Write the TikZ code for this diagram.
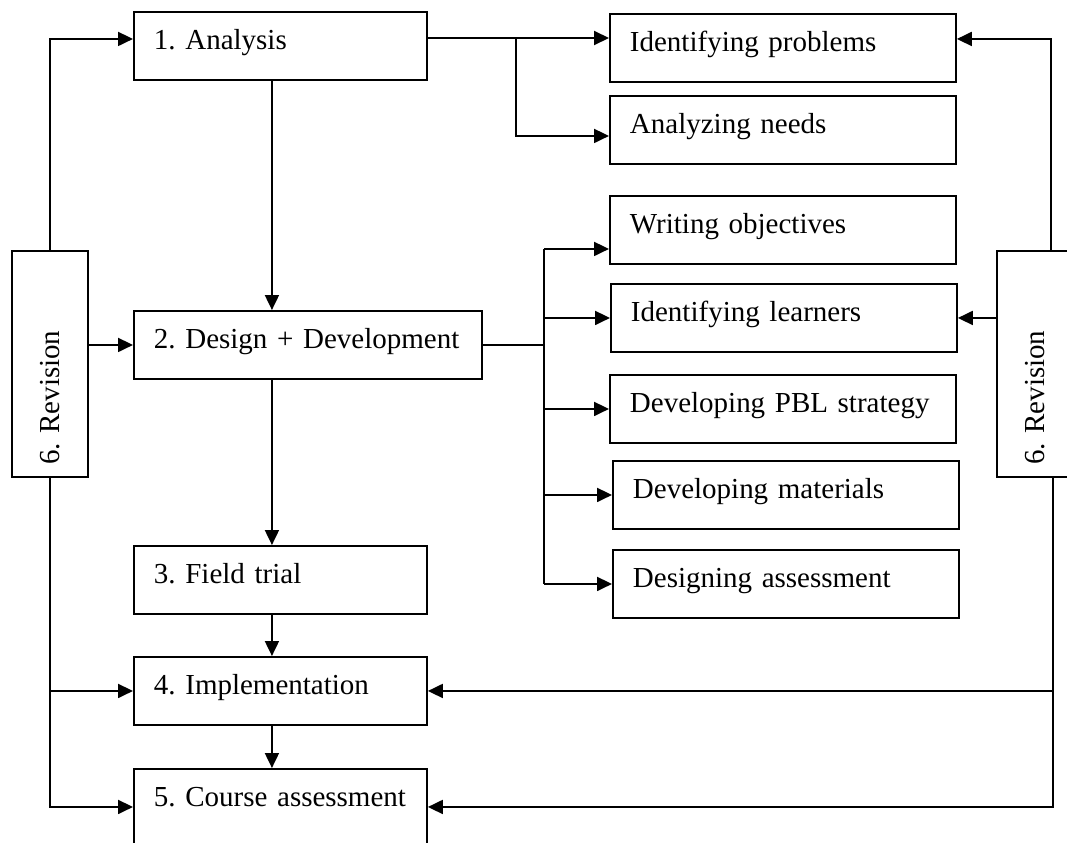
\documentclass[tikz,border=0pt]{standalone}
\usepackage{fontspec}
\setmainfont{Liberation Serif}
\usetikzlibrary{arrows.meta}

\begin{document}
\begin{tikzpicture}[x=0.02cm,y=-0.02cm,line width=1.1pt,
  box/.style={draw,anchor=north west,inner xsep=0.4cm,inner ysep=0pt,
    text height=0.76cm,text depth=0.6cm,align=left,
    font=\fontsize{16.5}{20}\selectfont\frenchspacing},
  phase/.style={box,text width=5.06cm},
  task/.style={box,text width=6.12cm},
  revbox/.style={draw,rotate=90,minimum width=4.52cm,minimum height=1.52cm,
    inner xsep=0.24cm,text width=4.04cm,align=left,
    font=\fontsize{16.5}{20}\selectfont\frenchspacing},
  flow/.style={-{Triangle[length=0.3cm,width=0.28cm]}}]
  \useasboundingbox (0,0) rectangle (1067,842);

  \node[phase] (analysis) at (133,11) {1. Analysis};
  \node[phase,text width=6.16cm] (design) at (133,310) {2. Design + Development};
  \node[phase] (field) at (133,545) {3. Field trial};
  \node[phase] (impl) at (133,656) {4. Implementation};
  \node[phase,text depth=1.0cm] (course) at (133,768) {5. Course assessment};

  \node[task] (ip) at (609,13) {Identifying problems};
  \node[task] (an) at (609,95) {Analyzing needs};
  \node[task] (wo) at (609,195) {Writing objectives};
  \node[task] (il) at (610,283) {Identifying learners};
  \node[task] (pbl) at (609,374) {Developing PBL strategy};
  \node[task] (dm) at (612,460) {Developing materials};
  \node[task] (da) at (612,549) {Designing assessment};

  \node[revbox] (revL) at (50,364) {6. Revision};
  \node[revbox] (revR) at (1035,364) {6. Revision};

  \coordinate (ja) at (516,38);
  \coordinate (jb) at (544,343);
  \coordinate (ipin) at ([yshift=0.18cm]ip.east);
  \coordinate (woin) at ([yshift=-0.38cm]wo.west);

  % main line
  \draw[flow] ([xshift=-0.17cm]analysis.south) coordinate (a1) -- (a1 |- design.north);
  \draw[flow] (a1 |- design.south) -- (a1 |- field.north);
  \draw[flow] (a1 |- field.south) -- (a1 |- impl.north);
  \draw[flow] (a1 |- impl.south) -- (a1 |- course.north);

  % analysis tasks
  \draw (analysis.east |- ja) -- (ja);
  \draw[flow] (ja) -- (ja -| ip.west);
  \draw[flow] (ja) |- ([yshift=-0.12cm]an.west);

  % design tasks
  \draw (design.east) -- (design.east -| jb);
  \draw (jb |- woin) -- (jb |- da.west);
  \draw[flow] (jb |- woin) -- (woin);
  \foreach \t in {il,pbl,dm,da}
    \draw[flow] (jb |- \t.west) -- (\t.west);

  % revision, left
  \draw[flow] (revL.east) |- ([yshift=0.14cm]analysis.west);
  \draw[flow] (revL.south |- design.west) -- (design.west);
  \draw[flow] (revL.west |- impl.west) -- (impl.west);
  \draw[flow] (revL.west) |- (course.base west);

  % revision, right
  \draw[flow] ([xshift=0.32cm]revR.east) |- (ipin);
  \draw[flow] (revR.north |- il.east) -- (il.east);
  \draw[flow] ([xshift=0.36cm]revR.west) coordinate (r1) |- (course.base east);
  \draw[flow] (r1 |- impl.east) -- (impl.east);
\end{tikzpicture}
\end{document}
